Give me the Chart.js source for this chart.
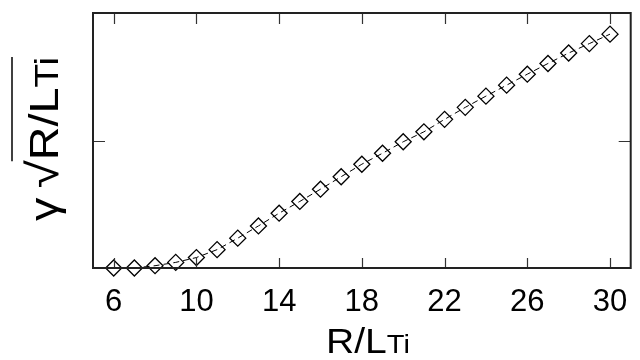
<!DOCTYPE html>
<html>
<head>
<meta charset="utf-8">
<script src="https://cdn.jsdelivr.net/npm/chart.js@4.4.1/dist/chart.umd.min.js"></script>
<style>
  html, body { margin: 0; padding: 0; background: #fff; }
  canvas { display: block; }
</style>
</head>
<body>
<canvas id="chart" width="640" height="360"></canvas>
<script>
/* ── Data ──────────────────────────────────────────────────── */
const gradientValues = [6, 7, 8, 9, 10, 11, 12, 13, 14, 15, 16, 17, 18,
                        19, 20, 21, 22, 23, 24, 25, 26, 27, 28, 29, 30];
const growthValues = [0, 0, 0.009, 0.022, 0.041, 0.072, 0.117, 0.165, 0.215,
                      0.261, 0.309, 0.358, 0.407, 0.450, 0.495, 0.534, 0.583,
                      0.630, 0.674, 0.717, 0.760, 0.802, 0.843, 0.880, 0.917];
const xTicks = [6, 10, 14, 18, 22, 26, 30];
const yTicks = [0, 0.5, 1];

const FONT = '"Liberation Sans", Arial, Helvetica, sans-serif';
const INK = '#000';
const TICK_INK = '#333';

/* Lay out a run of text pieces along +x, stretched to fill `span` px.
   Returns where the overlined part starts/ends. */
function drawRun(ctx, parts, span) {
    let natural = 0;
    parts.forEach(p => {
        ctx.font = p.s + 'px ' + FONT;
        p.w = ctx.measureText(p.t).width + (p.gap || 0);
        natural += p.w;
    });
    const k = span / natural;
    let u = 0, barStart = null;
    ctx.save();
    ctx.scale(k, 1);
    parts.forEach(p => {
        ctx.font = p.s + 'px ' + FONT;
        ctx.fillText(p.t, u, 0);
        if (p.bar && barStart === null) barStart = u * k;
        u += p.w;
    });
    ctx.restore();
    return { barStart, end: u * k };
}

/* ── Frame, inward ticks and axis titles ───────────────────── */
const framePlugin = {
    id: 'frame',
    afterDraw(chart) {
        const { ctx, chartArea: a, scales } = chart;
        const { left, right, top, bottom } = a;
        ctx.save();

        // inward tick marks
        ctx.strokeStyle = TICK_INK;
        ctx.lineWidth = 1.2;
        ctx.beginPath();
        xTicks.forEach(v => {
            const px = Math.round(scales.x.getPixelForValue(v)) + 0.5;
            ctx.moveTo(px, bottom); ctx.lineTo(px, bottom - 10);
            ctx.moveTo(px, top); ctx.lineTo(px, top + 11);
        });
        yTicks.forEach(v => {
            const py = Math.round(scales.y.getPixelForValue(v)) + 0.5;
            ctx.moveTo(left, py); ctx.lineTo(left + 12, py);
            ctx.moveTo(right, py); ctx.lineTo(right - 12, py);
        });
        ctx.stroke();

        // box
        ctx.strokeStyle = '#222';
        ctx.lineWidth = 2;
        ctx.strokeRect(left, top, right - left, bottom - top);

        ctx.fillStyle = INK;
        ctx.textBaseline = 'alphabetic';
        ctx.textAlign = 'left';

        // x title: R/L + smaller Ti, from x=326 to x=410
        ctx.save();
        ctx.translate(326, 353);
        drawRun(ctx, [
            { t: 'R/L', s: 35 },
            { t: 'Ti', s: 26 },
        ], 84);
        ctx.restore();

        // y title: γ √(R/LTi), rotated, running from y=221 up to y=57
        const yBase = 58;
        ctx.save();
        ctx.translate(yBase, 221);
        ctx.rotate(-Math.PI / 2);
        const r = drawRun(ctx, [
            { t: 'γ', s: 40, gap: 8 },
            { t: '√', s: 44 },
            { t: 'R/L', s: 40, bar: true },
            { t: 'Ti', s: 33, bar: true },
        ], 164);
        ctx.strokeStyle = INK;
        ctx.lineWidth = 1.5;
        ctx.beginPath();
        ctx.moveTo(r.barStart - 1, -(yBase - 12));
        ctx.lineTo(r.end, -(yBase - 12));
        ctx.stroke();
        ctx.restore();

        ctx.restore();
    },
};

/* ── Chart ─────────────────────────────────────────────────── */
new Chart(document.getElementById('chart'), {
    type: 'line',
    data: {
        datasets: [{
            label: 'growth rate',
            data: gradientValues.map((x, i) => ({ x, y: growthValues[i] })),
            borderColor: INK,
            borderWidth: 1,
            borderDash: [6, 4],
            tension: 0,
            fill: false,
            pointStyle: 'rectRot',
            pointRadius: 8,
            pointBorderColor: INK,
            pointBorderWidth: 1.3,
            pointBackgroundColor: 'rgba(0,0,0,0)',
            clip: false,
        }],
    },
    options: {
        responsive: false,
        animation: false,
        devicePixelRatio: 1,
        layout: { padding: { top: 13, right: 2, left: 0, bottom: 0 } },
        plugins: {
            legend: { display: false },
            tooltip: { enabled: false },
        },
        scales: {
            x: {
                type: 'linear',
                min: 5,
                max: 31,
                grid: { display: false },
                border: { display: false },
                afterBuildTicks: s => { s.ticks = xTicks.map(v => ({ value: v })); },
                afterFit: s => { s.height = 92; },
                ticks: {
                    color: INK,
                    padding: 8,
                    autoSkip: false,
                    maxRotation: 0,
                    font: { size: 31, family: FONT },
                },
            },
            y: {
                type: 'linear',
                min: 0,
                max: 1,
                grid: { display: false },
                border: { display: false },
                afterBuildTicks: s => { s.ticks = yTicks.map(v => ({ value: v })); },
                afterFit: s => { s.width = 93; },
                ticks: { display: false },
            },
        },
    },
    plugins: [framePlugin],
});
</script>
</body>
</html>
